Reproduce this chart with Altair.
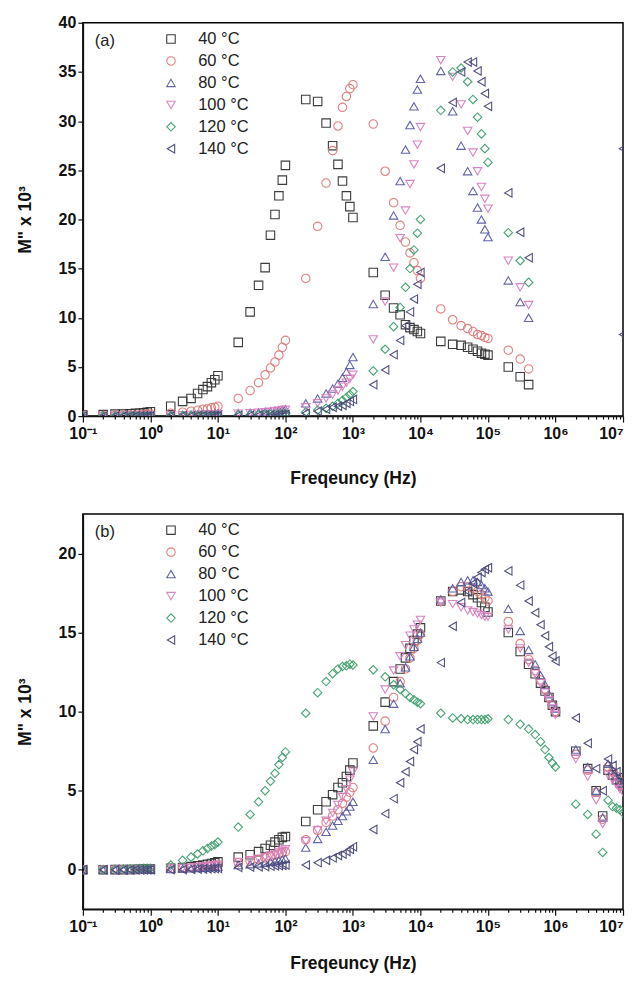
import altair as alt
import pandas as pd

SERIES = ["40 °C", "60 °C", "80 °C", "100 °C", "120 °C", "140 °C"]
COLORS = ["#333333", "#e07b7b", "#5b5ea6", "#d77fc0", "#3fa06e", "#4a4a7a"]
SHAPES = ["square", "circle", "triangle-up", "triangle-down", "diamond", "triangle-left"]

FREQ_B = [0.1, 0.2, 0.3, 0.4, 0.5, 0.6, 0.7, 0.8, 0.9, 1,
          2, 3, 4, 5, 6, 7, 8, 9, 10,
          20, 30, 40, 50, 60, 70, 80, 90, 100,
          200, 300, 400, 500, 600, 700, 800, 900, 1000,
          2e3, 3e3, 4e3, 5e3, 6e3, 7e3, 8e3, 9e3, 1e4,
          2e4, 3e4, 4e4, 5e4, 6e4, 7e4, 8e4, 9e4, 1e5,
          2e5, 3e5, 4e5, 5e5, 6e5, 7e5, 8e5, 9e5, 1e6,
          2e6, 3e6, 4e6, 5e6, 6e6, 7e6, 8e6, 9e6, 1e7]
FREQ_A = FREQ_B[:58]

# ---- panel (a) ----
A_40 = [0.1, 0.15, 0.2, 0.2, 0.25, 0.3, 0.3, 0.35, 0.4, 0.45,
        1.0, 1.5, 1.8, 2.3, 2.7, 3.0, 3.4, 3.7, 4.1,
        7.5, 10.6, 13.3, 15.1, 18.4, 20.5, 22.4, 24.0, 25.5,
        32.2, 32.0, 29.8, 27.5, 25.6, 23.9, 22.4, 21.3, 20.2,
        14.6, 12.3, 11.0, 10.3, 9.3, 9.0, 8.8, 8.6, 8.4,
        7.6, 7.3, 7.2, 7.0, 6.8, 6.6, 6.4, 6.3, 6.2,
        5.0, 4.0, 3.2]
A_60 = [0.05, 0.05, 0.08, 0.1, 0.1, 0.12, 0.13, 0.15, 0.15, 0.2,
        0.3, 0.4, 0.5, 0.6, 0.7, 0.75, 0.85, 0.9, 1.0,
        1.8, 2.6, 3.4, 4.2, 4.9, 5.5, 6.2, 7.0, 7.7,
        14.0, 19.3, 23.7, 27.0, 29.5, 31.4, 32.5, 33.3, 33.7,
        29.7, 24.9, 21.7, 19.4, 17.7, 16.6, 15.6, 14.8, 14.0,
        10.9, 9.8, 9.2, 8.9, 8.6, 8.3, 8.2, 8.0, 7.9,
        6.7, 5.8, 4.8]
A_80 = [0.02, 0.03, 0.03, 0.04, 0.04, 0.05, 0.05, 0.06, 0.06, 0.07,
        0.1, 0.12, 0.14, 0.16, 0.18, 0.2, 0.22, 0.24, 0.26,
        0.3, 0.35, 0.4, 0.45, 0.5, 0.55, 0.6, 0.65, 0.7,
        1.3, 1.8, 2.3, 2.8, 3.3, 3.9, 4.5, 5.2, 6.0,
        11.4, 16.2, 20.4, 23.9, 27.1, 29.6, 31.5, 33.2, 34.3,
        35.1, 31.0, 27.5, 24.9, 22.9, 21.2, 20.0, 19.0, 18.2,
        13.8, 11.6, 10.0]
A_100 = [0.02, 0.02, 0.03, 0.03, 0.04, 0.04, 0.05, 0.05, 0.05, 0.06,
         0.08, 0.1, 0.12, 0.13, 0.15, 0.16, 0.18, 0.19, 0.2,
         0.25, 0.3, 0.35, 0.4, 0.45, 0.5, 0.55, 0.6, 0.65,
         0.9, 1.3, 1.8, 2.2, 2.6, 3.0, 3.4, 3.8, 4.2,
         7.8, 11.65, 15.1, 18.1, 20.9, 23.6, 25.6, 27.6, 29.4,
         36.2, 34.5, 31.7, 29.0, 26.8, 24.9, 23.3, 22.1, 21.1,
         15.8, 13.1, 11.3]
A_120 = [0.01, 0.01, 0.01, 0.02, 0.02, 0.02, 0.02, 0.03, 0.03, 0.03,
         0.04, 0.05, 0.05, 0.06, 0.06, 0.07, 0.07, 0.08, 0.08,
         0.1, 0.12, 0.14, 0.16, 0.18, 0.2, 0.22, 0.24, 0.26,
         0.4, 0.6, 0.8, 1.0, 1.3, 1.6, 1.9, 2.2, 2.5,
         4.6, 6.8, 9.1, 11.05, 13.1, 15.0, 16.9, 18.6, 20.0,
         31.1, 35.0, 35.4, 34.0, 32.2, 30.4, 28.7, 27.2, 25.8,
         18.65, 15.8, 13.6]
A_140 = [0.0, 0.0, 0.0, 0.01, 0.01, 0.01, 0.01, 0.01, 0.01, 0.02,
         0.02, 0.03, 0.03, 0.04, 0.04, 0.05, 0.05, 0.05, 0.06,
         0.08, 0.09, 0.1, 0.11, 0.12, 0.13, 0.14, 0.15, 0.16,
         0.3, 0.5, 0.7, 0.9, 1.0, 1.1, 1.3, 1.5, 1.7,
         3.2, 4.7, 6.25, 7.7, 9.2, 10.6, 11.9, 13.4, 14.6,
         25.2, 31.9, 35.0, 36.0, 36.0, 35.1, 34.0, 32.8, 31.5,
         22.7, 18.7, 16.1]
A_EXTRA_FREQ = [1e7, 1e7]
A_EXTRA_140 = [27.2, 8.3]

# ---- panel (b) ----
B_40 = [0.0, 0.0, 0.01, 0.01, 0.02, 0.02, 0.03, 0.03, 0.04, 0.05,
        0.1, 0.15, 0.2, 0.25, 0.3, 0.35, 0.4, 0.45, 0.5,
        0.8, 0.95, 1.15, 1.35, 1.55, 1.75, 1.9, 2.05, 2.1,
        3.05, 3.8, 4.3, 4.75, 5.2, 5.5, 5.9, 6.3, 6.75,
        9.1, 10.6, 11.9, 12.7, 13.4, 14.0, 14.5, 14.9, 15.3,
        17.0, 17.6, 17.7, 17.6, 17.4, 17.2, 16.9, 16.6, 16.3,
        15.0, 13.8, 13.0, 12.4, 11.8, 11.3, 10.9, 10.4, 10.0,
        7.5, 6.4, 5.0, 3.4, 6.3, 6.0, 5.7, 5.5, 5.3]
B_60 = [0.0, 0.0, 0.01, 0.01, 0.01, 0.02, 0.02, 0.02, 0.03, 0.03,
        0.08, 0.1, 0.13, 0.16, 0.19, 0.22, 0.25, 0.28, 0.3,
        0.45, 0.55, 0.65, 0.75, 0.85, 0.95, 1.0, 1.1, 1.15,
        1.9, 2.5, 3.0, 3.4, 3.8, 4.2, 4.6, 4.9, 5.2,
        7.7, 9.4, 10.9, 11.9, 12.7, 13.4, 14.0, 14.5, 14.9,
        17.0, 17.6, 17.9, 17.9, 17.8, 17.6, 17.4, 17.2, 17.0,
        15.7, 14.3, 13.3, 12.6, 12.0, 11.4, 10.9, 10.4, 10.0,
        7.3, 6.3, 4.9, 3.2, 6.5, 6.2, 5.9, 5.6, 5.3]
B_80 = [0.0, 0.0, 0.0, 0.01, 0.01, 0.01, 0.01, 0.02, 0.02, 0.02,
        0.05, 0.07, 0.09, 0.11, 0.13, 0.15, 0.17, 0.19, 0.2,
        0.3, 0.35, 0.4, 0.45, 0.5, 0.55, 0.6, 0.65, 0.7,
        1.4, 1.95, 2.4, 2.8, 3.1, 3.4, 3.7, 4.0, 4.3,
        6.95, 8.9, 10.5, 11.8, 12.8, 13.5, 14.1, 14.6, 15.0,
        17.1, 17.8, 18.2, 18.3, 18.3, 18.2, 18.0, 17.8, 17.6,
        16.5, 15.1, 13.9, 13.0, 12.3, 11.7, 11.1, 10.6, 10.2,
        7.6, 6.5, 5.0, 3.3, 6.7, 6.3, 5.9, 5.6, 5.4]
B_100 = [0.0, 0.0, 0.01, 0.01, 0.01, 0.02, 0.02, 0.02, 0.03, 0.03,
         0.08, 0.1, 0.13, 0.16, 0.19, 0.22, 0.25, 0.28, 0.3,
         0.5, 0.6, 0.7, 0.8, 0.9, 1.0, 1.1, 1.2, 1.3,
         1.8, 2.5, 3.1, 3.6, 4.1, 4.6, 5.1, 5.7, 6.2,
         9.7, 11.4, 12.6, 13.5, 14.2, 14.8, 15.2, 15.5, 15.8,
         16.9, 16.8, 16.6, 16.4, 16.3, 16.2, 16.1, 16.0, 16.0,
         15.2, 14.0, 13.1, 12.4, 11.8, 11.2, 10.7, 10.2, 9.8,
         7.0, 5.9, 4.4, 2.9, 6.0, 5.7, 5.4, 5.1, 4.9]
B_120 = [0.0, 0.02, 0.04, 0.05, 0.06, 0.07, 0.08, 0.09, 0.1, 0.1,
         0.3, 0.6, 0.8, 1.0, 1.2, 1.35, 1.5, 1.6, 1.75,
         2.7, 3.5, 4.3, 5.0, 5.6, 6.1, 6.65, 7.1, 7.45,
         9.9, 11.2, 11.9, 12.4, 12.7, 12.85, 12.9, 13.0, 12.95,
         12.65, 12.2, 11.7, 11.4, 11.15, 10.9, 10.75, 10.6, 10.5,
         9.9, 9.6, 9.55, 9.5, 9.5, 9.5, 9.5, 9.5, 9.55,
         9.5, 9.2, 8.9, 8.55, 8.1, 7.6, 7.1, 6.75, 6.5,
         4.15, 3.5, 2.25, 1.1, 4.4, 4.0, 3.9, 3.8, 3.6]
B_140 = [0.0, 0.0, 0.0, 0.0, 0.0, 0.0, 0.0, 0.0, 0.0, 0.0,
         0.01, 0.02, 0.03, 0.04, 0.05, 0.06, 0.07, 0.08, 0.09,
         0.15, 0.17, 0.19, 0.21, 0.23, 0.25, 0.27, 0.29, 0.3,
         0.3, 0.45, 0.6, 0.75, 0.9, 1.0, 1.15, 1.3, 1.45,
         2.55, 3.55, 4.5, 5.5, 6.2, 6.85, 7.6, 8.1, 8.9,
         13.1, 15.4, 16.9, 17.6, 18.1, 18.5, 18.8, 19.0, 19.1,
         18.9, 18.0, 17.0, 16.25, 15.5, 14.8, 14.1, 13.5, 13.2,
         9.6, 8.0, 6.4, 5.0, 7.0, 6.6, 6.2, 5.9, 5.6]

X_TICKS = [0.1, 0.2, 0.3, 0.4, 0.5, 0.6, 0.7, 0.8, 0.9,
           1, 2, 3, 4, 5, 6, 7, 8, 9,
           10, 20, 30, 40, 50, 60, 70, 80, 90,
           100, 200, 300, 400, 500, 600, 700, 800, 900,
           1e3, 2e3, 3e3, 4e3, 5e3, 6e3, 7e3, 8e3, 9e3,
           1e4, 2e4, 3e4, 4e4, 5e4, 6e4, 7e4, 8e4, 9e4,
           1e5, 2e5, 3e5, 4e5, 5e5, 6e5, 7e5, 8e5, 9e5,
           1e6, 2e6, 3e6, 4e6, 5e6, 6e6, 7e6, 8e6, 9e6, 1e7]
Y_TICKS_A = [0, 5, 10, 15, 20, 25, 30, 35, 40]
Y_TICKS_B = [0, 5, 10, 15, 20]

FONT = "Liberation Sans"
IS_DECADE = "abs(log(datum.value)/LN10 - round(log(datum.value)/LN10)) < 0.001"
LABEL_EXPR = (IS_DECADE + " ? '10' + ['⁻¹','⁰','¹','²','³','⁴','⁵','⁶','⁷']"
              "[round(log(datum.value)/LN10) + 1] : ''")


def build_df(freqs, values_list, extra=None):
    rows = []
    for s, vals in zip(SERIES, values_list):
        for f, v in zip(freqs, vals):
            rows.append({"f": f, "v": v, "s": s})
    if extra:
        for s, fs, vs in extra:
            for f, v in zip(fs, vs):
                rows.append({"f": f, "v": v, "s": s})
    return pd.DataFrame(rows)


df_a = build_df(FREQ_A, [A_40, A_60, A_80, A_100, A_120, A_140],
                extra=[("140 °C", A_EXTRA_FREQ, A_EXTRA_140)])
df_b = build_df(FREQ_B, [B_40, B_60, B_80, B_100, B_120, B_140])


def panel(df, ydom, yticks, tag, height, title_pad):
    legend = alt.Legend(title=None, orient="none", legendX=80, legendY=8,
                        labelFont=FONT, labelFontSize=16.5, labelColor="#222",
                        symbolSize=72, symbolStrokeWidth=1.1, rowPadding=5,
                        labelOffset=19, padding=0)
    pts = alt.Chart(df).mark_point(filled=False, size=72, strokeWidth=1.1,
                                   opacity=0.95, clip=True).encode(
        x=alt.X("f:Q", title="Freqeuncy (Hz)",
                scale=alt.Scale(type="log", domain=[0.1, 1e7], nice=False),
                axis=alt.Axis(values=X_TICKS, labelExpr=LABEL_EXPR,
                              tickSize={"condition": {"test": IS_DECADE, "value": 6}, "value": 3},
                              labelAlign={"condition": {"test": "datum.value > 9.9e6", "value": "right"},
                                          "value": "center"},
                              labelFlush=False, labelOverlap=False, labelPadding=3,
                              minExtent=30, maxExtent=30, titlePadding=title_pad)),
        y=alt.Y("v:Q", title='M" x 10³',
                scale=alt.Scale(domain=ydom, nice=False, zero=False),
                axis=alt.Axis(values=yticks, tickSize=5, labelPadding=2,
                              minExtent=40, maxExtent=40, titlePadding=8)),
        color=alt.Color("s:N", scale=alt.Scale(domain=SERIES, range=COLORS), legend=legend),
        shape=alt.Shape("s:N", scale=alt.Scale(domain=SERIES, range=SHAPES), legend=legend),
    )
    txt = alt.Chart(pd.DataFrame({"t": [tag]})).mark_text(
        align="left", baseline="middle", font=FONT, fontSize=16.5, color="#222"
    ).encode(x=alt.value(12), y=alt.value(18), text="t:N")
    return alt.layer(pts, txt).properties(width=541, height=height)


chart = alt.vconcat(
    panel(df_a, [0, 40], Y_TICKS_A, "(a)", 394, 23),
    panel(df_b, [-2.5, 22.5], Y_TICKS_B, "(b)", 396, 15),
    spacing=25,
).resolve_scale(
    x="independent", y="independent", color="independent", shape="independent"
).resolve_legend(
    color="independent", shape="independent"
).configure_view(
    stroke="black", strokeWidth=1.5
).configure_axis(
    labelFont=FONT, labelFontWeight="bold", labelFontSize=16, labelColor="#111",
    titleFont=FONT, titleFontWeight="bold", titleFontSize=17.5, titleColor="#111",
    domainColor="#111", domainWidth=1.5, tickColor="#111", tickWidth=1.2, grid=False,
).properties(
    padding={"left": 8, "top": 5, "right": 3, "bottom": 0}, background="white"
)

chart.save("out.html", embed_options={"renderer": "svg", "actions": False})
